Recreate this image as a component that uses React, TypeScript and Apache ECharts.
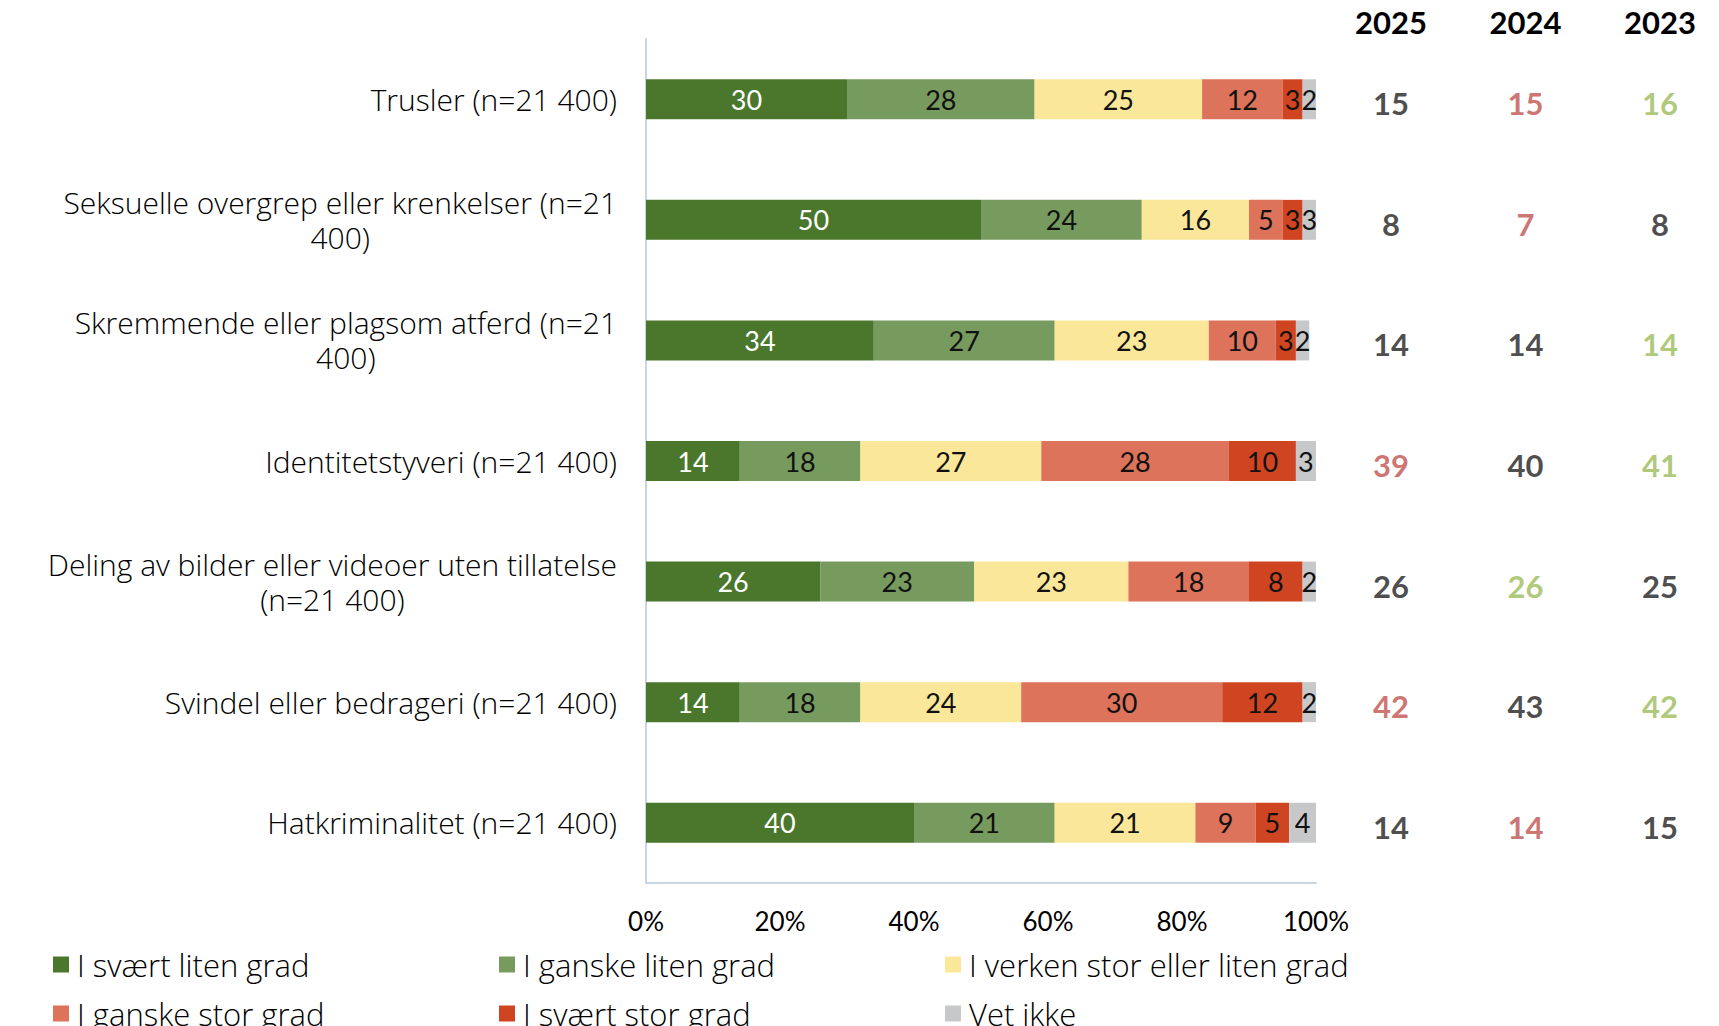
import React, { useEffect, useRef } from "react";
import * as echarts from "echarts";

// Survey categories (y axis), top to bottom
const categories = [
  "Trusler (n=21 400)",
  "Seksuelle overgrep eller krenkelser (n=21\n400)",
  "Skremmende eller plagsom atferd (n=21\n400)",
  "Identitetstyveri (n=21 400)",
  "Deling av bilder eller videoer uten tillatelse\n(n=21 400)",
  "Svindel eller bedrageri (n=21 400)",
  "Hatkriminalitet (n=21 400)",
];

const responseNames = [
  "I svært liten grad",
  "I ganske liten grad",
  "I verken stor eller liten grad",
  "I ganske stor grad",
  "I svært stor grad",
  "Vet ikke",
];

// Percent shares per response option
const sværtLiten = [30, 50, 34, 14, 26, 14, 40];
const ganskeLiten = [28, 24, 27, 18, 23, 18, 21];
const verken = [25, 16, 23, 27, 23, 24, 21];
const ganskeStor = [12, 5, 10, 28, 18, 30, 9];
const sværtStor = [3, 3, 3, 10, 8, 12, 5];
const vetIkke = [2, 3, 2, 3, 2, 2, 4];

// Share "stor grad" per year, with the highlight used for each figure
const years = ["2025", "2024", "2023"];
const share2025 = [15, 8, 14, 39, 26, 42, 14];
const share2024 = [15, 7, 14, 40, 26, 43, 14];
const share2023 = [16, 8, 14, 41, 25, 42, 15];
const tone2025 = ["n", "n", "n", "r", "n", "r", "n"];
const tone2024 = ["r", "r", "n", "n", "g", "n", "r"];
const tone2023 = ["g", "n", "g", "g", "n", "g", "n"];

const NUM_FONT = "Lato, 'DejaVu Sans', sans-serif";
const TEXT_FONT = "'Open Sans', Lato, sans-serif";
const palette = ["#4a772b", "#779b5f", "#fae799", "#dc735a", "#d04521", "#c7c8ca"];
const toneColor: Record<string, string> = { n: "#1e1e1e", r: "#c0504d", g: "#9bbb59" };

export default function App() {
  const ref = useRef<HTMLDivElement>(null);

  useEffect(() => {
    document.body.style.margin = "0";
    document.body.style.overflow = "hidden";
    const chart = echarts.init(ref.current!, null, { renderer: "svg" });

    const values = [sværtLiten, ganskeLiten, verken, ganskeStor, sværtStor, vetIkke];
    const barSeries = values.map((data, i) => ({
      name: responseNames[i],
      type: "bar",
      stack: "total",
      xAxisIndex: 0,
      yAxisIndex: 0,
      barWidth: 40,
      data,
      itemStyle: { color: palette[i] },
      label: {
        show: true,
        position: "inside",
        fontFamily: NUM_FONT,
        fontSize: 27,
        color: i === 0 ? "#ffffff" : "#111111",
      },
    }));

    const yearShares = [share2025, share2024, share2023];
    const yearTones = [tone2025, tone2024, tone2023];
    const yearData: any[] = [];
    yearShares.forEach((arr, col) => {
      arr.forEach((v, row) => {
        yearData.push({
          value: [col, row, v],
          label: { color: toneColor[yearTones[col][row]] },
        });
      });
    });

    const legendText = {
      fontFamily: TEXT_FONT,
      fontWeight: 300,
      fontSize: 31,
      color: "#000",
      width: 400,
      lineHeight: 30,
      padding: [0, 0, 0, 3],
    };

    const option: any = {
      animation: false,
      textStyle: { fontFamily: NUM_FONT },
      grid: [
        { left: 646, width: 670, top: 39, height: 844, containLabel: false },
        { left: 1391, width: 269, top: 39, height: 844, containLabel: false },
      ],
      xAxis: [
        {
          type: "value",
          gridIndex: 0,
          min: 0,
          max: 100,
          interval: 20,
          splitLine: { show: false },
          axisTick: { show: false },
          axisLine: { show: true, lineStyle: { color: "#c9d5e4", width: 2 } },
          axisLabel: {
            formatter: "{value}%",
            fontFamily: NUM_FONT,
            fontSize: 26,
            color: "#000",
            margin: 25,
          },
        },
        {
          type: "category",
          gridIndex: 1,
          position: "top",
          boundaryGap: false,
          data: years,
          axisLine: { show: false },
          axisTick: { show: false },
          splitLine: { show: false },
          axisLabel: {
            fontFamily: NUM_FONT,
            fontSize: 31,
            fontWeight: "bold",
            color: "#000",
            margin: 2,
            lineHeight: 31,
          },
        },
      ],
      yAxis: [
        {
          type: "category",
          gridIndex: 0,
          inverse: true,
          data: categories,
          axisTick: { show: false },
          axisLine: { show: true, lineStyle: { color: "#c9d5e4", width: 2 } },
          axisLabel: {
            margin: 29,
            formatter: (v: string) =>
              v
                .split("\n")
                .map((l) => `{c|${l}}`)
                .join("\n"),
            rich: {
              c: {
                align: "center",
                fontFamily: TEXT_FONT,
                fontWeight: 300,
                fontSize: 30,
                lineHeight: 35,
                color: "#000",
              },
            },
          },
        },
        {
          type: "category",
          gridIndex: 1,
          inverse: true,
          data: categories,
          show: false,
        },
      ],
      legend: [
        {
          left: 48,
          top: 944,
          orient: "horizontal",
          icon: "rect",
          itemWidth: 16,
          itemHeight: 16,
          itemGap: 22,
          data: responseNames.slice(0, 3),
          textStyle: legendText,
        },
        {
          left: 48,
          top: 993,
          orient: "horizontal",
          icon: "rect",
          itemWidth: 16,
          itemHeight: 16,
          itemGap: 22,
          data: responseNames.slice(3),
          textStyle: legendText,
        },
      ],
      series: [
        ...barSeries,
        {
          type: "scatter",
          xAxisIndex: 1,
          yAxisIndex: 1,
          symbolSize: 0,
          data: yearData,
          label: {
            show: true,
            position: "inside",
            offset: [0, 4],
            fontFamily: NUM_FONT,
            fontSize: 31,
            fontWeight: "bold",
            formatter: (p: any) => String(p.value[2]),
          },
        },
      ],
    };

    chart.setOption(option);
    return () => chart.dispose();
  }, []);

  return (
    <div
      ref={ref}
      style={{ position: "absolute", left: 0, top: 0, width: 1719, height: 1026, background: "#fff" }}
    />
  );
}
